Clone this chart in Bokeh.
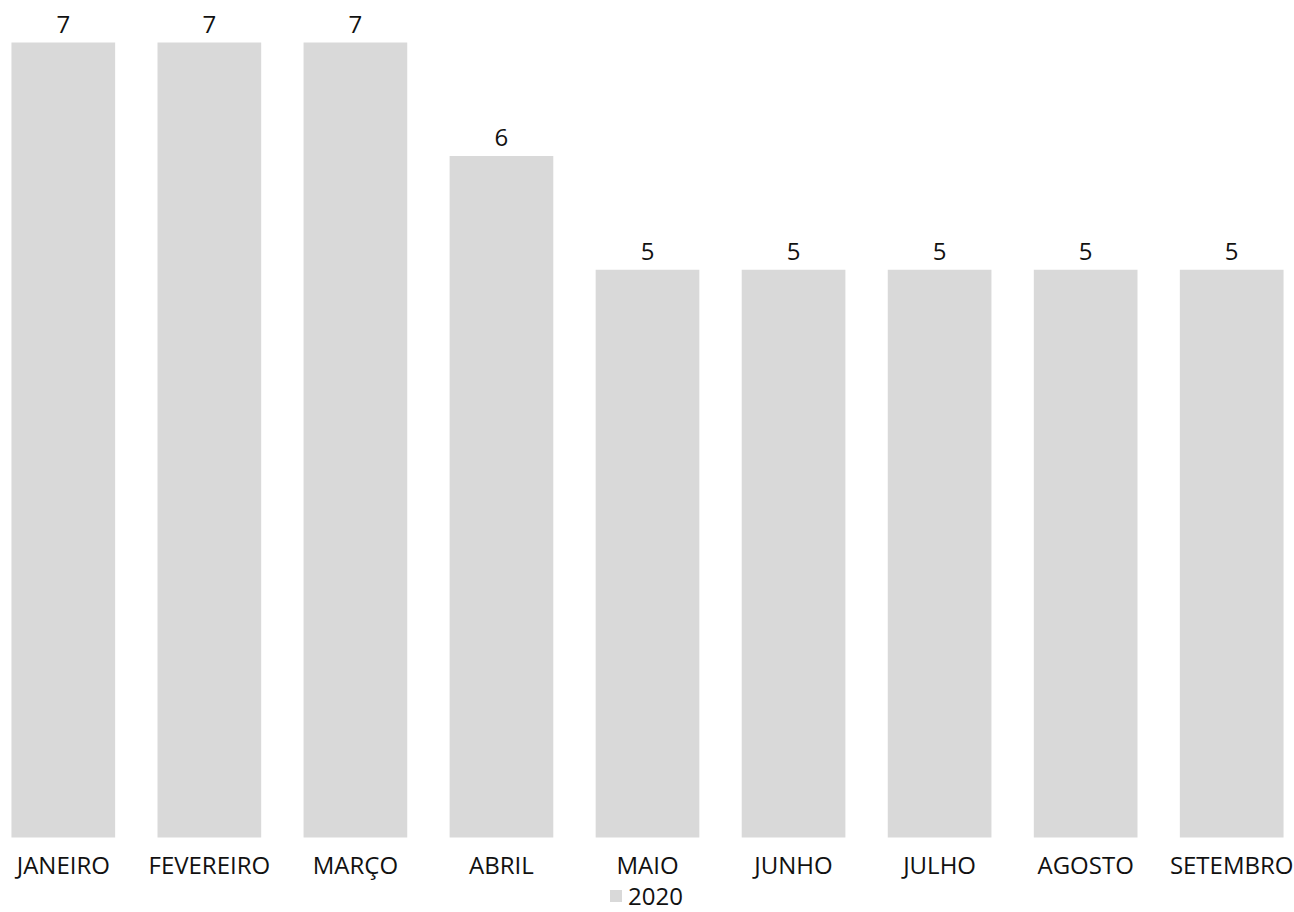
from bokeh.plotting import figure
from bokeh.models import ColumnDataSource, FactorRange, Range1d, Legend, LegendItem, LabelSet
from bokeh.core.properties import value
from bokeh.embed import file_html
from bokeh.resources import INLINE

months = ["JANEIRO", "FEVEREIRO", "MARÇO", "ABRIL", "MAIO", "JUNHO", "JULHO", "AGOSTO", "SETEMBRO"]
values_2020 = [7, 7, 7, 6, 5, 5, 5, 5, 5]
series_name = "2020"

FONT = "Open Sans"
FS = "24px"
TEXT_COLOR = "#111111"
BAR_COLOR = "#d9d9d9"

src = ColumnDataSource(dict(x=months, y=values_2020, base=[0] * len(months),
                            label=[str(v) for v in values_2020]))

x_range = FactorRange(*months, range_padding=-0.07, range_padding_units="absolute", factor_padding=0)
p = figure(x_range=x_range, y_range=Range1d(-0.66, 7.37), width=1294, height=912,
           output_backend="svg", toolbar_location=None, x_axis_location=None, y_axis_location=None,
           min_border_left=0, min_border_right=0, min_border_top=0, min_border_bottom=0)

r = p.vbar(x="x", top="y", width=0.71, source=src, fill_color=BAR_COLOR, line_color=None)

value_labels = LabelSet(x="x", y="y", text="label", source=src, text_align="center",
                        text_baseline="alphabetic", y_offset=10, text_font=value(FONT),
                        text_font_size=value(FS), text_color=TEXT_COLOR)
p.add_layout(value_labels)

cat_labels = LabelSet(x="x", y="base", text="x", source=src, text_align="center",
                      text_baseline="alphabetic", y_offset=-36, text_font=value(FONT),
                      text_font_size=value(FS), text_color=TEXT_COLOR)
p.add_layout(cat_labels)

p.xgrid.visible = False
p.ygrid.visible = False
p.outline_line_color = None

legend = Legend(items=[LegendItem(label=series_name, renderers=[r])], orientation="horizontal",
                location=(608, 0), padding=0, margin=0, spacing=0, border_line_color=None,
                label_text_font=FONT, label_text_font_size=FS, label_text_color=TEXT_COLOR,
                glyph_width=15, glyph_height=15, label_standoff=5, label_height=20,
                background_fill_alpha=0)
p.add_layout(legend)

open("out.html", "w").write(file_html(p, INLINE))
